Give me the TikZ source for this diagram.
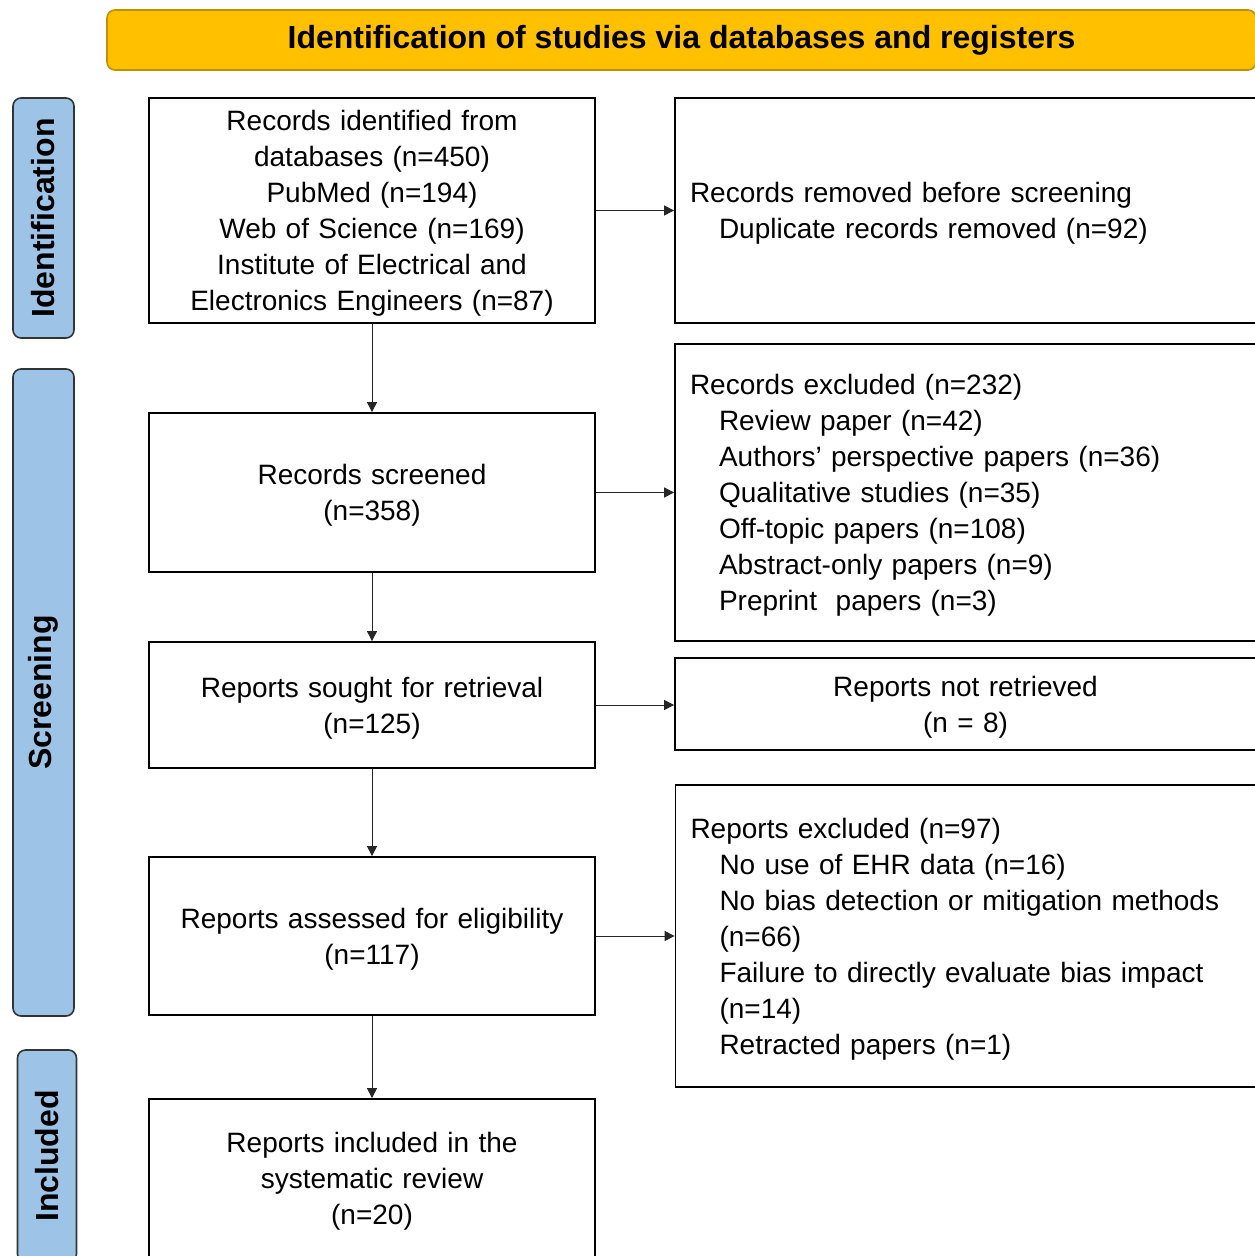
\documentclass[tikz,border=0pt]{standalone}
\usepackage{fontspec}
\setmainfont{Liberation Sans}
\usetikzlibrary{arrows.meta}
\definecolor{headyellow}{HTML}{FFC000}
\definecolor{headborder}{HTML}{BF9000}
\definecolor{stageblue}{HTML}{9DC3E6}
\newcommand{\exind}{\hspace*{14.5pt}}

\begin{document}
\begin{tikzpicture}[x=0.5pt, y=-0.5pt, font=\fontsize{14}{18}\selectfont,
  box/.style={draw, line width=0.9pt, text width=223pt, align=center, inner sep=0pt,
    execute at begin node=\rule{0pt}{13.3pt}},
  outbox/.style={draw, line width=0.9pt, align=left, text width=275.5pt, inner xsep=7.5pt, inner ysep=0pt,
    execute at begin node=\rule{0pt}{13.3pt}},
  stage/.style={draw=black!80, fill=stageblue, rounded corners=4pt, line width=0.8pt, rotate=90,
    font=\fontsize{16}{18}\selectfont\bfseries, inner sep=0pt},
  arr/.style={-{Triangle[length=5pt,width=5pt]}, line width=0.5pt, black!85}]

\useasboundingbox (0,0) rectangle (1254,1256);

\node[draw=headborder, fill=headyellow, rounded corners=4pt, line width=0.8pt, minimum width=574.5pt,
  minimum height=30pt, font=\fontsize{16}{18}\selectfont\bfseries] (title) at (681.5,40)
  {Identification of studies via databases and registers};

\node[stage, minimum width=120pt, minimum height=30.5pt] (ident) at (43.5,218) {Identification};
\node[stage, minimum width=323.5pt, minimum height=30.5pt] (screen) at (43.5,692.5) {Screening};
\node[stage, minimum width=106pt, minimum height=29.5pt] (incl) at (47,1156) {Included};

\node[box, minimum height=112.5pt] (found) at (372,210.5)
  {Records identified from\\databases (n=450)\\PubMed (n=194)\\Web of Science (n=169)\\
   Institute of Electrical and\\Electronics Engineers (n=87)};
\node[box, minimum height=79.5pt] (screened) at (372,492.5) {Records screened\\(n=358)};
\node[box, minimum height=63pt] (sought) at (372,705) {Reports sought for retrieval\\(n=125)};
\node[box, minimum height=79pt] (assessed) at (372,936) {Reports assessed for eligibility\\(n=117)};
\node[box, minimum height=79pt] (included) at (372,1178) {Reports included in the\\systematic review\\(n=20)};

\node[outbox, minimum height=112.5pt] (removed) at (965.5,210.5)
  {Records removed before screening\\\exind Duplicate records removed (n=92)};
\node[outbox, minimum height=148.5pt] (recexcl) at (965.5,492.5)
  {Records excluded (n=232)\\\exind Review paper (n=42)\\\exind Authors’ perspective papers (n=36)\\
   \exind Qualitative studies (n=35)\\\exind Off-topic papers (n=108)\\\exind Abstract-only papers (n=9)\\
   \exind Preprint\ \ papers (n=3)};
\node[outbox, align=center, minimum height=46pt] (notret) at (965.5,704) {Reports not retrieved\\(n = 8)};
\node[outbox, minimum height=151pt] (repexcl) at (966,936)
  {Reports excluded (n=97)\\\exind No use of EHR data (n=16)\\\exind No bias detection or mitigation methods\\
   \exind (n=66)\\\exind Failure to directly evaluate bias impact\\\exind (n=14)\\\exind Retracted papers (n=1)};

\draw[arr] (found) -- (screened);
\draw[arr] (screened) -- (sought);
\draw[arr] (sought) -- (assessed);
\draw[arr] (assessed) -- (included);
\draw[arr] (found) -- (removed);
\draw[arr] (screened) -- (recexcl);
\draw[arr] (sought.east) -- (sought.east -| notret.west);
\draw[arr] (assessed) -- (repexcl);
\end{tikzpicture}
\end{document}
